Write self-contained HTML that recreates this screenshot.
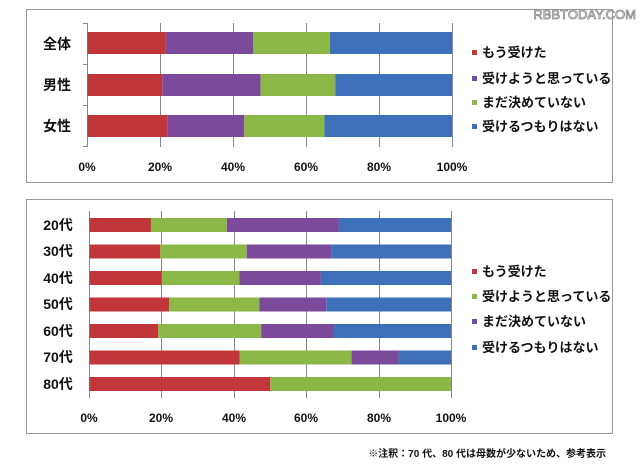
<!DOCTYPE html>
<html><head><meta charset="utf-8"><style>
html,body{margin:0;padding:0;background:#fff;width:640px;height:468px;overflow:hidden}
svg{display:block}
text{font-family:"Liberation Sans","Noto Sans CJK JP",sans-serif;font-weight:bold;fill:#111}
</style></head><body>
<svg width="640" height="468" xmlns="http://www.w3.org/2000/svg">
<text x="636" y="19" text-anchor="end" style="font-size:13px;font-weight:normal;fill:#fff;stroke:#888;stroke-width:0.8">RBBTODAY.COM</text>
<rect x="26.5" y="9.5" width="586" height="173" fill="none" stroke="#999"/>
<rect x="26.5" y="199.5" width="586" height="234" fill="none" stroke="#999"/>
<g stroke="#888" stroke-width="1">
<line x1="87.5" y1="23" x2="87.5" y2="147"/>
<line x1="160.5" y1="23" x2="160.5" y2="147"/><line x1="233.5" y1="23" x2="233.5" y2="147"/><line x1="306.5" y1="23" x2="306.5" y2="147"/><line x1="379.5" y1="23" x2="379.5" y2="147"/><line x1="452.5" y1="23" x2="452.5" y2="147"/>
<line x1="83" y1="23.5" x2="87" y2="23.5"/><line x1="83" y1="64.5" x2="87" y2="64.5"/><line x1="83" y1="105.5" x2="87" y2="105.5"/><line x1="83" y1="146.5" x2="87" y2="146.5"/>
<line x1="89.5" y1="211" x2="89.5" y2="398"/>
<line x1="161.5" y1="211" x2="161.5" y2="398"/><line x1="234.5" y1="211" x2="234.5" y2="398"/><line x1="306.5" y1="211" x2="306.5" y2="398"/><line x1="379.5" y1="211" x2="379.5" y2="398"/><line x1="451.5" y1="211" x2="451.5" y2="398"/>
</g>
<g id="top"></g>
<g id="bot"></g>
<g style="font-size:12px" text-anchor="middle">
<text x="87" y="171">0%</text><text x="160" y="171">20%</text><text x="233" y="171">40%</text><text x="306" y="171">60%</text><text x="379" y="171">80%</text><text x="452" y="171">100%</text>
<text x="89" y="422">0%</text><text x="161" y="422">20%</text><text x="234" y="422">40%</text><text x="306" y="422">60%</text><text x="379" y="422">80%</text><text x="451" y="422">100%</text>
</g>
<g style="font-size:14px" text-anchor="middle">
<text x="57" y="49">全体</text><text x="57" y="90">男性</text><text x="57" y="131">女性</text>
</g>
<g style="font-size:14px" text-anchor="middle">
<text x="58" y="230">20代</text><text x="58" y="256">30代</text><text x="58" y="283">40代</text><text x="58" y="309">50代</text><text x="58" y="336">60代</text><text x="58" y="362">70代</text><text x="58" y="389">80代</text>
</g>
<g style="font-size:13px">
<rect x="472" y="50" width="5" height="5" fill="#c0363a"/><text x="482" y="57">もう受けた</text>
<rect x="472" y="76" width="5" height="5" fill="#7b4a9a"/><text x="482" y="83">受けようと思っている</text>
<rect x="472" y="100" width="5" height="5" fill="#8cb847"/><text x="482" y="107">まだ決めていない</text>
<rect x="472" y="124" width="5" height="5" fill="#3d70b8"/><text x="482" y="131">受けるつもりはない</text>
<rect x="472" y="269" width="5" height="5" fill="#c0363a"/><text x="482" y="276">もう受けた</text>
<rect x="472" y="294" width="5" height="5" fill="#8cb847"/><text x="482" y="301">受けようと思っている</text>
<rect x="472" y="319" width="5" height="5" fill="#7b4a9a"/><text x="482" y="326">まだ決めていない</text>
<rect x="472" y="345" width="5" height="5" fill="#3d70b8"/><text x="482" y="352">受けるつもりはない</text>
</g>
<text x="606" y="457" text-anchor="end" style="font-size:10px">※注釈：70 代、80 代は母数が少ないため、参考表示</text>
<script>
var R="#c0363a",P="#7b4a9a",G="#8cb847",B="#3d70b8",ns="http://www.w3.org/2000/svg";
function bars(id,x0,x1,rows){var g=document.getElementById(id);rows.forEach(function(r){var prev=0;r.v.forEach(function(v,i){var a=x0+(x1-x0)*prev/100,b=x0+(x1-x0)*v/100;var e=document.createElementNS(ns,"rect");e.setAttribute("x",a);e.setAttribute("y",r.y);e.setAttribute("width",b-a);e.setAttribute("height",r.h);e.setAttribute("fill",r.c[i]);g.appendChild(e);prev=v;});});}
var t=[R,P,G,B];
bars("top",87.5,452,[{y:32,h:22,v:[21.5,45.5,66.5,100],c:t},{y:74,h:22,v:[20.5,47.5,68,100],c:t},{y:115,h:22,v:[22,43,65,100],c:t}]);
var b=[R,G,P,B],rows=[[17,38,69,100],[19.5,43.5,67,100],[20,41.5,64,100],[22,47,65.5,100],[19,47.5,67.5,100],[41.5,72.5,85.5,100],[50,100]];
bars("bot",89.5,451,rows.map(function(v,i){return{y:218+i*26.5,h:14,v:v,c:b};}));
</script>
</svg>
</body></html>
